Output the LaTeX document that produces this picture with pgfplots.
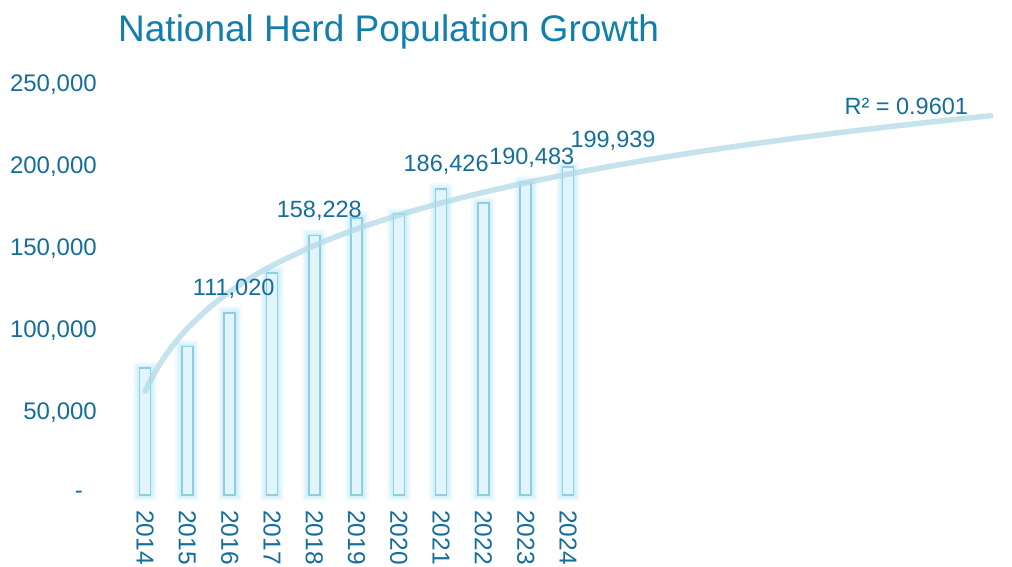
\documentclass[border=0pt]{standalone}
\usepackage{pgfplots}
\pgfplotsset{compat=1.18}
\usepackage{fontspec}
\setmainfont{Liberation Sans}
\definecolor{titleblue}{RGB}{18,126,174}
\definecolor{tickblue}{RGB}{20,110,155}
\definecolor{barfill}{RGB}{224,245,252}
\definecolor{barline}{RGB}{145,205,224}
\definecolor{glow}{RGB}{175,232,252}
\definecolor{trend}{RGB}{178,218,232}

\pgfplotstableread{
x y
1 77400
2 90500
3 111020
4 135400
5 158228
6 168900
7 171300
8 186426
9 178000
10 190483
11 199939
}\herd

\begin{document}
\begin{tikzpicture}[x=1pt,y=1pt]
\useasboundingbox (0,0) rectangle (1012,567);
\fill[white] (0,0) rectangle (1012,567);
\node[anchor=base west, text=titleblue, font=\fontsize{37}{42}\selectfont, inner sep=0pt] at (118,525) {National Herd Population Growth};
\begin{axis}[
  at={(124pt,72pt)}, anchor=south west,
  scale only axis, width=888pt, height=410pt,
  xmin=0.5, xmax=21.5, ymin=0, ymax=250000,
  scaled y ticks=false,
  axis line style={draw=none},
  major tick length=0pt,
  tick style={draw=none},
  xtick={1,2,3,4,5,6,7,8,9,10,11},
  xticklabels={2014,2015,2016,2017,2018,2019,2020,2021,2022,2023,2024},
  xticklabel style={rotate=-90, anchor=west, inner xsep=0pt, xshift=15pt, font=\fontsize{24.5}{28}\selectfont, text=tickblue},
  ytick={0,50000,100000,150000,200000,250000},
  yticklabels={{\makebox[22pt][l]{-}},{50,000},{100,000},{150,000},{200,000},{250,000}},
  yticklabel style={anchor=east, inner xsep=0pt, xshift=-27pt, font=\fontsize{24}{28}\selectfont, text=tickblue},
  clip=false,
]
\addplot[ybar, bar width=11pt, bar shift=0pt, draw=glow, line width=13pt, fill=glow, opacity=0.14] table[x=x,y=y] {\herd};
\addplot[ybar, bar width=11pt, bar shift=0pt, draw=glow, line width=9pt, fill=glow, opacity=0.22] table[x=x,y=y] {\herd};
\addplot[ybar, bar width=11pt, bar shift=0pt, draw=glow, line width=5pt, fill=glow, opacity=0.35] table[x=x,y=y] {\herd};
\addplot[ybar, bar width=11pt, bar shift=0pt, draw=barline, line width=1.6pt, fill=barfill] table[x=x,y=y] {\herd};
\addplot[trend, line width=5.5pt, line cap=round, smooth, opacity=0.75, no markers] coordinates {
(1,63327) (1.25,75635) (1.5,85695) (1.75,94196) (2,101562) (2.5,113873) (3,123929) (3.5,132435)
(4,139799) (5,152106) (6,162168) (7,170668) (8,178033) (9,184531) (10,190345) (11,195601)
(12,200401) (13,204814) (14,208907) (15,212713) (16,216271) (17,219614) (18,222769) (19,225748)
(20,228578) (21,231270)
};
\node[anchor=base, xshift=4pt, yshift=17pt, text=tickblue, font=\fontsize{23.5}{26}\selectfont, inner sep=0pt] at (axis cs:3,111020) {111,020};
\node[anchor=base, xshift=5pt, yshift=18pt, text=tickblue, font=\fontsize{23.5}{26}\selectfont, inner sep=0pt] at (axis cs:5,158228) {158,228};
\node[anchor=base, xshift=5pt, yshift=18pt, text=tickblue, font=\fontsize{23.5}{26}\selectfont, inner sep=0pt] at (axis cs:8,186426) {186,426};
\node[anchor=base, xshift=6pt, yshift=18pt, text=tickblue, font=\fontsize{23.5}{26}\selectfont, inner sep=0pt] at (axis cs:10,190483) {190,483};
\node[anchor=base, xshift=45pt, yshift=20pt, text=tickblue, font=\fontsize{23.5}{26}\selectfont, inner sep=0pt] at (axis cs:11,199939) {199,939};
\node[anchor=base, text=tickblue, font=\fontsize{23.5}{26}\selectfont, inner sep=0pt] at (axis cs:19.0,232100) {R² = 0.9601};
\end{axis}
\end{tikzpicture}
\end{document}
